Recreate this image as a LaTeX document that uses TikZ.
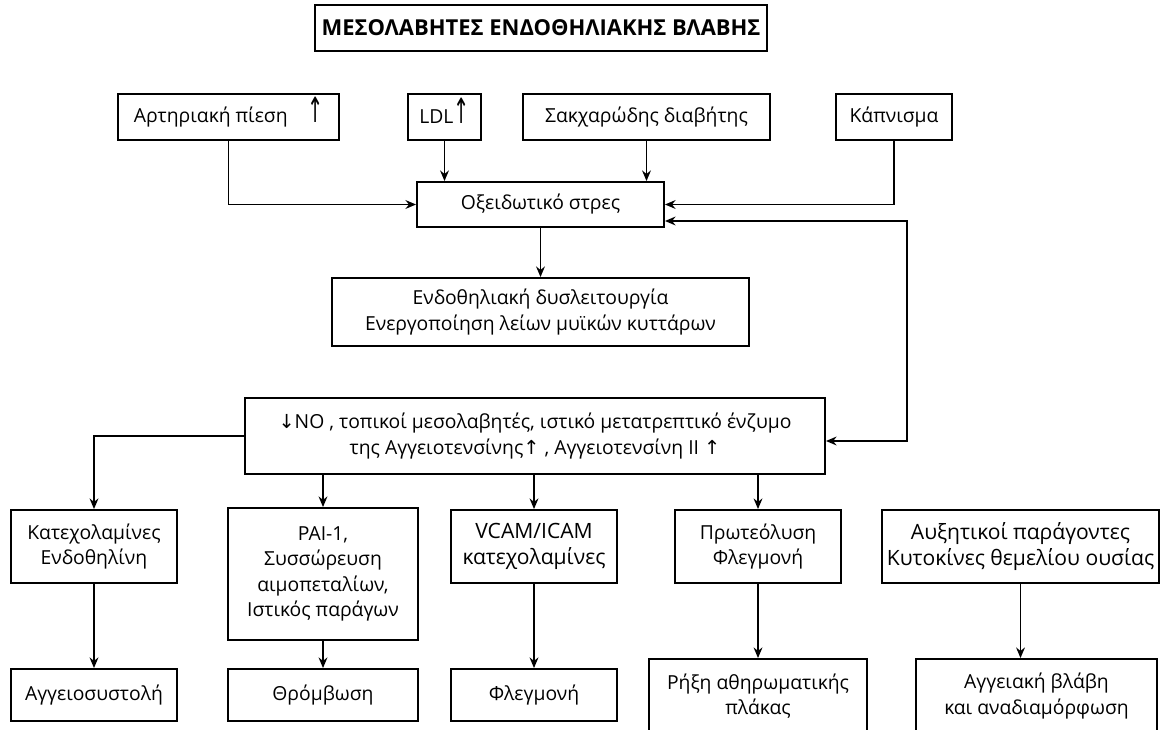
\documentclass[tikz,border=0pt]{standalone}
\usepackage{fontspec}
\setmainfont{Open Sans}
\newfontfamily\arrowfont{DejaVu Sans}
\usetikzlibrary{arrows.meta,positioning}
\newcommand{\uparr}{\smash{\scalebox{1}[1.8]{\arrowfont ↑}}}
\newcommand{\smup}{{\arrowfont ↑}}
\newcommand{\smdown}{{\arrowfont ↓}}
\tikzset{
  box/.style={draw, line width=1.1pt, align=center, inner sep=0pt, font=\fontsize{11pt}{14.5pt}\selectfont},
  bigbox/.style={box, font=\fontsize{12pt}{15pt}\selectfont},
  titlebox/.style={box, font=\bfseries\fontsize{12.5pt}{15pt}\selectfont}
}

\begin{document}
\begin{tikzpicture}[>={Stealth[length=6pt,width=5pt]}, line width=1pt]
   \useasboundingbox (0,0) rectangle (23.22,-14.58);
   \clip (0,0) rectangle (23.22,-14.58);
   \node[titlebox, minimum width=9.04cm, minimum height=0.92cm] (title) at (10.82,-0.56) {ΜΕΣΟΛΑΒΗΤΕΣ ΕΝΔΟΘΗΛΙΑΚΗΣ ΒΛΑΒΗΣ};
   \begin{scope}[every node/.style={box, minimum height=0.92cm}]
    \node[minimum width=4.42cm] (bp) at (4.57,-2.34) {Αρτηριακή πίεση\quad\uparr};
    \node[minimum width=1.46cm] (ldl) at (8.89,-2.34) {LDL\uparr};
    \node[minimum width=4.94cm] (dm) at (12.93,-2.34) {Σακχαρώδης διαβήτης};
    \node[minimum width=2.32cm] (smoke) at (17.88,-2.34) {Κάπνισμα};
    \node[minimum width=4.94cm, minimum height=0.9cm] (ox) at (10.81,-4.09) {Οξειδωτικό στρες};
    \node[minimum width=8.34cm, minimum height=1.36cm] (endo) at (10.81,-6.24) {Ενδοθηλιακή δυσλειτουργία\\Ενεργοποίηση λείων μυϊκών κυττάρων};
    \node[minimum width=11.6cm, minimum height=1.52cm] (no) at (10.70,-8.72) {\smdown NO , τοπικοί μεσολαβητές, ιστικό μετατρεπτικό ένζυμο\\της Αγγειοτενσίνης\smup\ , Αγγειοτενσίνη II \smup};
   \end{scope}
   \begin{scope}[every node/.style={box, minimum height=1.46cm}]
    \node[minimum width=3.32cm] (cat) at (1.88,-10.93) {Κατεχολαμίνες\\Ενδοθηλίνη};
    \node[minimum width=3.8cm, minimum height=2.64cm] (pai) at (6.46,-11.48) {PAI-1,\\Συσσώρευση\\αιμοπεταλίων,\\Ιστικός παράγων};
    \node[bigbox, minimum width=3.32cm] (vcam) at (10.68,-10.93) {VCAM/ICAM\\κατεχολαμίνες};
    \node[minimum width=3.32cm] (prot) at (15.16,-10.93) {Πρωτεόλυση\\Φλεγμονή};
    \node[bigbox, minimum width=5.54cm] (growth) at (20.41,-10.93) {Αυξητικοί παράγοντες\\Κυτοκίνες θεμελίου ουσίας};
   \end{scope}
   \begin{scope}[every node/.style={box, minimum height=1.04cm}]
    \node[minimum width=3.32cm] (vasoc) at (1.88,-13.9) {Αγγειοσυστολή};
    \node[minimum width=3.8cm] (thromb) at (6.46,-13.9) {Θρόμβωση};
    \node[minimum width=3.32cm] (infl) at (10.68,-13.9) {Φλεγμονή};
    \node[minimum width=4.36cm, minimum height=1.48cm] (rupt) at (15.16,-13.92) {Ρήξη αθηρωματικής\\πλάκας};
    \node[minimum width=4.82cm, minimum height=1.48cm] (vdmg) at (20.73,-13.92) {Αγγειακή βλάβη\\και αναδιαμόρφωση};
   \end{scope}
   \coordinate (loop) at (18.14,-8.82);
   \draw[->] (bp) |- (ox);
   \draw[->] (ldl) -- (ldl |- ox.north);
   \draw[->] (dm) -- (dm |- ox.north);
   \draw[->] (smoke) |- (ox);
   \draw[<->] ([yshift=-0.33cm]ox.east) -| (loop) -- (no.east |- loop);
   \draw[->] (ox) -- (endo);
   \draw[->] (no) -| (cat);
   \draw[->] (pai |- no.south) -- (pai);
   \draw[->] (vcam |- no.south) -- (vcam);
   \draw[->] (prot |- no.south) -- (prot);
   \draw[->] (cat) -- (vasoc);
   \draw[->] (pai) -- (thromb);
   \draw[->] (vcam) -- (infl);
   \draw[->] (prot) -- (rupt);
   \draw[->] (growth) -- (growth |- vdmg.north);
\end{tikzpicture}
\end{document}
